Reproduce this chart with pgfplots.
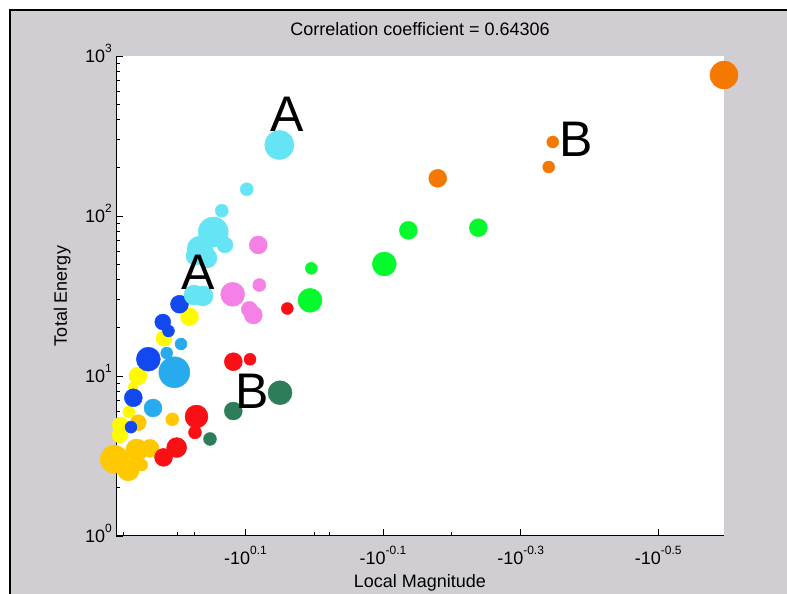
\documentclass[border=0pt]{standalone}
\usepackage{fontspec}
\setmainfont{Liberation Sans}
\usepackage{pgfplots}
\pgfplotsset{compat=1.18}
\definecolor{bggray}{RGB}{208,206,210}
\definecolor{cyanc}{RGB}{100,228,245}
\definecolor{lblue}{RGB}{40,170,238}
\definecolor{bluec}{RGB}{18,72,240}
\definecolor{yellowc}{RGB}{255,250,0}
\definecolor{goldc}{RGB}{255,200,0}
\definecolor{redc}{RGB}{250,15,20}
\definecolor{dgreen}{RGB}{46,125,90}
\definecolor{pinkc}{RGB}{245,128,230}
\definecolor{greenc}{RGB}{5,250,45}
\definecolor{orangec}{RGB}{245,120,0}
\newcommand{\ssup}[1]{\raisebox{10pt}{\fontsize{12}{14}\selectfont #1}}
\newcommand{\F}{\fontsize{18}{22}\selectfont}
\pgfplotsset{bub/.style={scatter, only marks, mark=*,
  scatter/use mapped color={draw=#1, fill=#1},
  visualization depends on={\thisrow{r}\as\rad},
  scatter/@pre marker code/.append style={/tikz/mark size=\rad}}}
\begin{document}
\begin{tikzpicture}
\path[use as bounding box] (0pt,0pt) rectangle (787pt,594pt);
\fill[white] (0pt,0pt) rectangle (787pt,594pt);
\fill[bggray] (10pt,0pt) rectangle (787pt,584pt);
\draw[black,line width=2pt] (10pt,0pt) -- (10pt,584pt) -- (787pt,584pt);
\begin{axis}[at={(116pt,58pt)}, anchor=south west, scale only axis,
  width=608pt, height=480pt,
  ymode=log, xmin=-0.2881, xmax=0.5956, ymin=1, ymax=1000,
  axis lines*=left,
  axis line style={black, line width=1pt},
  axis background/.style={fill=white},
  clip=false,
  xtick={-0.1,0.1,0.3,0.5},
  xticklabels={-10\ssup{0.1},-10\ssup{-0.1},-10\ssup{-0.3},-10\ssup{-0.5}},
  minor x tick num=0,
  extra x ticks={-0.2772,-0.199,-0.1747,0,0.0227,0.2},
  extra x tick labels={},
  extra x tick style={major tick length=4pt},
  ytick={1,10,100,1000},
  yticklabels={10\ssup{0},10\ssup{1},10\ssup{2},10\ssup{3}},
  tick align=inside,
  major tick length=7pt, minor tick length=4pt,
  tick style={black, line width=0.7pt},
  tick label style={font=\F},
  xticklabel style={anchor=base, yshift=-29pt},
  yticklabel style={inner sep=0pt, anchor=base east, xshift=-4pt, yshift=-7pt},
  title={Correlation coefficient = 0.64306},
  title style={font=\F, at={(axis description cs:0.5,1.0302)}, anchor=base},
  xlabel={Local Magnitude},
  xlabel style={font=\F, at={(axis description cs:0.5,-0.1083)}, anchor=base},
  ylabel={Total Energy},
  ylabel style={font=\F, at={(axis description cs:-0.0806,0.5)}, anchor=base},
]
\addplot[bub=yellowc] table {
t E r
-0.1813 23.48 9
-0.2183 17.21 8
-0.2561 10.00 9
-0.2634 8.54 5
-0.2695 5.96 6
-0.2818 4.94 8
-0.2823 4.28 8
};
\addplot[bub=goldc] table {
t E r
-0.2063 5.36 6.5
-0.2557 5.11 8
-0.2905 3.02 14
-0.2702 2.59 11
-0.2580 3.45 11
-0.2387 3.53 9
-0.2507 2.78 6
};
\addplot[bub=bluec] table {
t E r
-0.1958 28.10 9
-0.2201 21.75 8
-0.2118 19.11 6
-0.2411 12.74 12
-0.2629 7.31 9
-0.2663 4.79 6
};
\addplot[bub=lblue] table {
t E r
-0.2033 10.55 15.5
-0.2144 13.92 6
-0.1936 15.85 6
-0.2343 6.31 9
};
\addplot[bub=cyanc] table {
t E r
-0.0507 277.8 14.5
-0.0981 146.9 6.5
-0.1344 107.9 6.5
-0.1467 79.43 15
-0.1297 65.9 8
-0.1660 62.19 13
-0.1733 56.23 9
-0.1558 54.64 10
-0.1747 32.08 10
-0.1616 31.62 10
};
\addplot[bub=pinkc] table {
t E r
-0.0813 65.9 9
-0.0798 37.05 6.5
-0.1185 32.41 12
-0.0943 26.12 8
-0.0885 24.06 9
};
\addplot[bub=redc] table {
t E r
-0.0391 26.42 6
-0.1176 12.28 9
-0.0933 12.72 6
-0.1711 5.58 11.5
-0.1733 4.44 6.5
-0.1999 3.57 10
-0.2190 3.10 9
};
\addplot[bub=dgreen] table {
t E r
-0.0497 7.86 12
-0.1176 6.04 9
-0.1515 4.04 6.5
};
\addplot[bub=greenc] table {
t E r
0.2385 84.5 9
0.1368 81.4 9
0.1019 50.12 12
-0.0042 47.1 6
-0.0061 29.72 12
};
\addplot[bub=orangec] table {
t E r
0.5956 760.6 14
0.3467 290.1 6
0.3408 202.4 6
0.1795 172.0 9
};
\coordinate (a1) at (axis cs:-0.04,432.1);
\coordinate (a2) at (axis cs:-0.1689,44.36);
\coordinate (b1) at (axis cs:0.3802,302.0);
\coordinate (b2) at (axis cs:-0.09,8.08);
\end{axis}
\begin{scope}[every node/.style={font=\fontsize{50}{60}\selectfont, inner sep=0pt}]
\node at (a1) {A};
\node at (a2) {A};
\node at (b1) {B};
\node at (b2) {B};
\end{scope}
\end{tikzpicture}
\end{document}
